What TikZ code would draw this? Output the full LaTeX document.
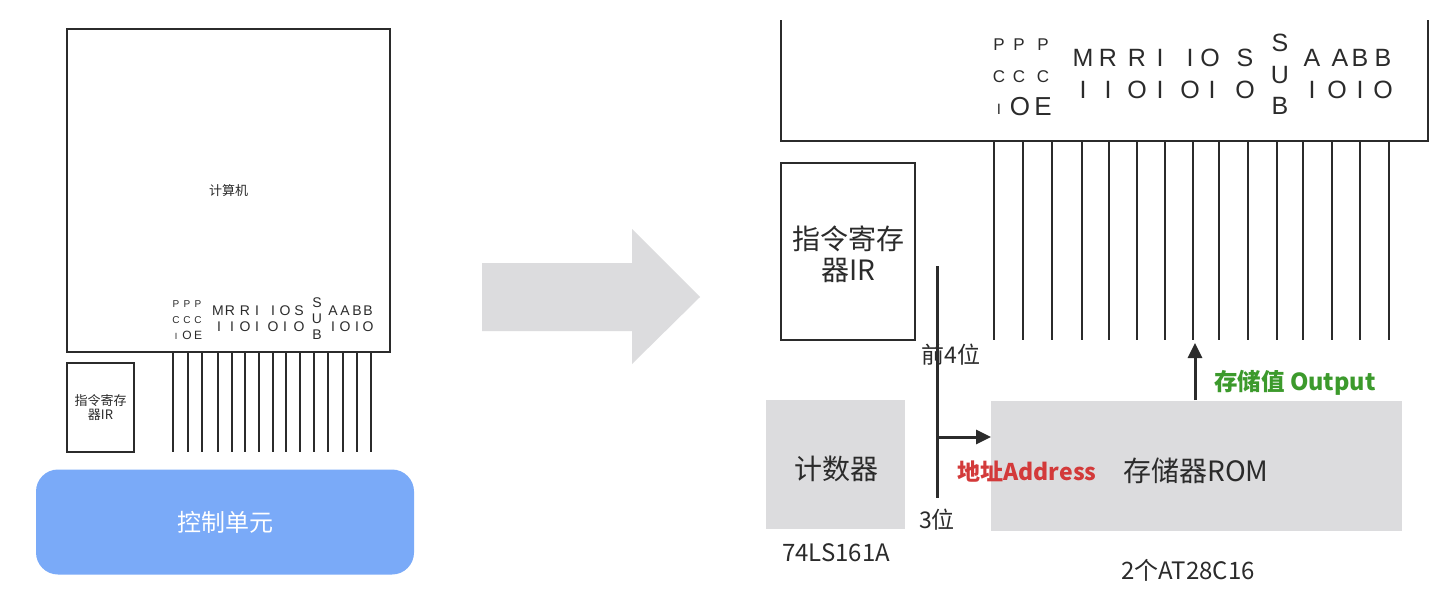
\documentclass[tikz,border=0pt]{standalone}
\usepackage{fontspec}
\setmainfont{Noto Sans CJK SC}
\newfontfamily\arial{Liberation Sans}
\usetikzlibrary{arrows.meta}
\definecolor{boxgray}{HTML}{DCDCDE}
\definecolor{ctrlblue}{HTML}{7AAAF8}
\definecolor{addrred}{HTML}{D33A3A}
\definecolor{outgreen}{HTML}{3C9A2C}
\definecolor{ink}{HTML}{2B2B2B}
\newcommand\fsz[1]{\fontsize{#1pt}{#1pt}\selectfont}
\tikzset{
  outline/.style={draw=ink, inner sep=0pt, outer sep=0pt},
  graybox/.style={fill=boxgray, draw=none, inner sep=0pt, outer sep=0pt, text=ink},
  sigline/.style={draw=ink},
  flowarrow/.style={draw=ink, line width=3pt, -{Triangle[width=14pt,length=15pt]}},
  lbl/.style={text=ink, inner sep=0pt},
}
\begin{document}
\begin{tikzpicture}[x=1pt,y=-1pt]
\useasboundingbox (0,0) rectangle (1449,614);
\fill[white] (0,0) rectangle (1449,614);

% ---------------- left part ----------------
\node[outline, line width=1.2pt, minimum width=323pt, minimum height=323pt, lbl, font=\fsz{13}] (comp) at (228.5,190.5) {计算机};
\node[outline, line width=1.2pt, minimum width=67pt, minimum height=89pt, lbl, align=center, font=\fsz{13}] (irL) at (100.5,407.5) {指令寄存\\[1pt]器IR};
\node[fill=ctrlblue, rounded corners=22pt, minimum width=378pt, minimum height=105pt, inner sep=0pt, text=white, font=\fsz{24}] (ctrl) at (225,522) {控制单元};

\foreach \x in {173,188,202,218,232,245,259,273,286,300,314,328,343,357,371}
  \draw[sigline, line width=1.1pt] (\x,352) -- (\x,452);

\foreach \x/\y/\t/\s in {176/304/P/10, 187/304/P/10, 198/304/P/10,
  176/320/C/10, 187/320/C/10, 198/320/C/10,
  176/336/I/9, 187/335/O/12, 198/335/E/12,
  218/311/M/14, 230/311/R/14, 245/311/R/14, 257/311/I/14, 273/311/I/14, 285/311/O/14, 299/311/S/14,
  219/327/I/14, 232/327/I/14, 245/327/O/14, 257/327/I/14, 273/327/O/14, 285/327/I/14, 299/327/O/14,
  317/303/S/14, 317/319/U/14, 317/335/B/14,
  333/311/A/14, 345/311/A/14, 357/311/B/14, 368/311/B/14,
  333/327/I/14, 345/327/O/14, 357/327/I/14, 368/327/O/14}
  \node[lbl, font=\arial\fsz{\s}] (l-\x-\y) at (\x,\y) {\t};

% big arrow
\fill[boxgray] (482,263) -- (632,263) -- (632,229) -- (700,297) -- (632,364) -- (632,331) -- (482,331) -- cycle;

% ---------------- right part ----------------
\coordinate (tl) at (781,20);
\coordinate (bl) at (781,141);
\coordinate (br) at (1428,141);
\coordinate (tr) at (1428,20);
\draw[ink, line width=2.5pt, line join=miter] (tl) -- (bl) -- (br) -- (tr);

\foreach \x in {994,1023,1052,1082,1109,1137,1165,1193,1219,1248,1277,1303,1332,1360,1389}
  \draw[sigline, line width=2pt] (\x,141) -- (\x,340);

\foreach \x/\y/\t/\s in {999/45/P/17, 1019/45/P/17, 1043/45/P/17,
  999/77/C/17, 1019/77/C/17, 1043/77/C/17,
  999/109/I/15, 1020/107/O/26, 1043/107/E/26,
  1083/58/M/25, 1108/58/R/25, 1137/58/R/25, 1160/58/I/25, 1190/58/I/25, 1210/58/O/25, 1245/58/S/25,
  1083/90/I/25, 1108/90/I/25, 1137/90/O/25, 1160/90/I/25, 1190/90/O/25, 1212/90/I/25, 1245/90/O/25,
  1280/43/S/25, 1280/75/U/25, 1280/106/B/25,
  1312/58/A/25, 1340/58/A/25, 1360/58/B/25, 1383/58/B/25,
  1312/90/I/25, 1337/90/O/25, 1360/90/I/25, 1383/90/O/25}
  \node[lbl, font=\arial\fsz{\s}] (r-\x-\y) at (\x,\y) {\t};

\node[outline, line width=2pt, minimum width=134pt, minimum height=177pt, inner sep=0pt, outer sep=0pt] (irR) at (848,251.5) {};
\node[lbl, align=center, font=\fsz{28}] (irRtxt) at (848,254) {指令寄存\\[3pt]器IR};

\node[graybox, minimum width=139pt, minimum height=129pt] (cnt) at (835.5,464.5) {};
\node[lbl, font=\fsz{28}] (cnttxt) at (836,469) {计数器};
\node[lbl, font=\fsz{24}] (cntname) at (836,553) {74LS161A};

\node[graybox, minimum width=411pt, minimum height=130pt] (rom) at (1196.5,466) {};
\node[lbl, font=\fsz{28}] (romtxt) at (1196,471) {存储器ROM};
\node[lbl, font=\fsz{24}] (romname) at (1188,570) {2个AT28C16};

% address bus
\coordinate (vtop) at (937,266);
\coordinate (vbot) at (937,498);
\coordinate (jn) at (937,437);
\draw[ink, line width=3pt] (vtop) -- (vbot);
\draw[flowarrow] (jn) -- (rom.west |- jn);
\node[lbl, font=\fsz{23}] (hi4) at (951,355) {前4位};
\node[lbl, font=\fsz{23}] (lo3) at (937,520) {3位};
\node[inner sep=0pt, text=addrred, font=\bfseries\fsz{23}] (addr) at (1027,472) {地址Address};

% output
\coordinate (outbase) at (1195,400);
\coordinate (outtip) at (1195,343);
\draw[flowarrow] (outbase) -- (outtip);
\node[inner sep=0pt, text=outgreen, font=\bfseries\fsz{23.5}, anchor=west] (outlbl) at (1214,383) {存储值 Output};
\end{tikzpicture}
\end{document}
